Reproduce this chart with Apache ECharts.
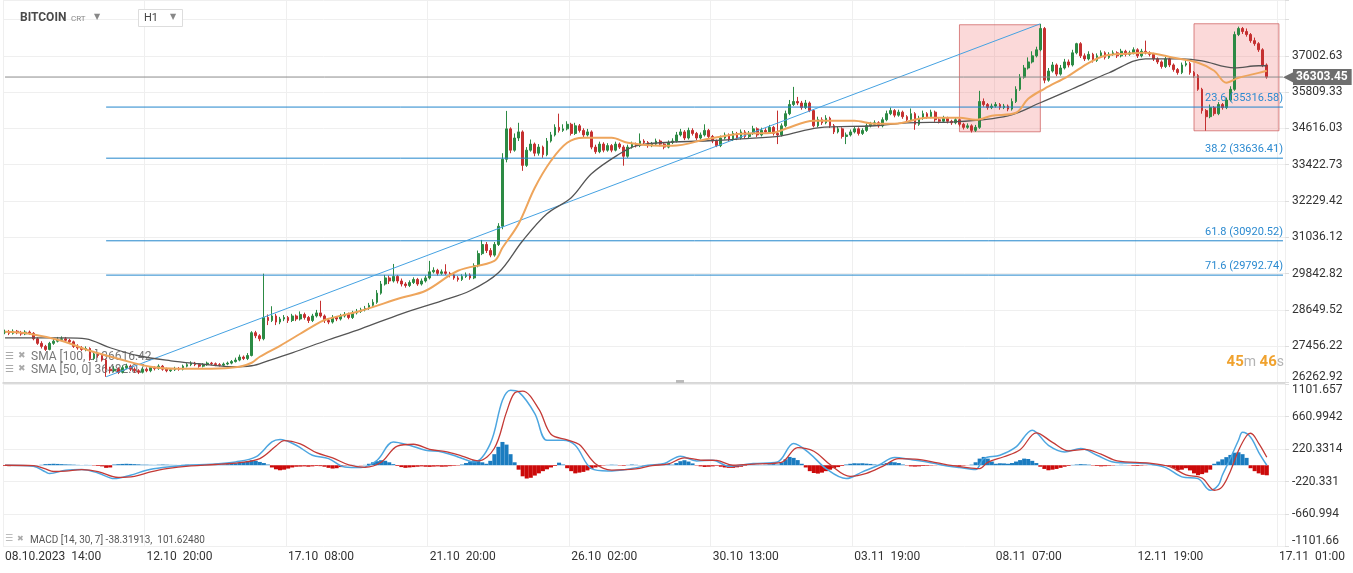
<!DOCTYPE html>
<html><head><meta charset="utf-8">
<script src="https://cdn.jsdelivr.net/npm/echarts@6/dist/echarts.min.js"></script>
<style>html,body{margin:0;padding:0;background:#fff}#c{width:1353px;height:573px}</style>
</head><body><div id="c"></div>
<script>
// ---------- data ----------
const timeLabels = ['08.10.2023  14:00','12.10  20:00','17.10  08:00','21.10  20:00','26.10  02:00','30.10  13:00','03.11  19:00','08.11  07:00','12.11  19:00','17.11  01:00'];
const barsPerLabel = 35;
const slotCount = 317;
const firstOpen = 27900;
const closes = [
27930,27880,27950,27900,27860,27920,27880,27700,27550,27450,
27350,27550,27620,27680,27700,27650,27600,27450,27400,27350,
27380,27050,27200,27150,27000,26700,26650,26700,26600,26750,
26800,26700,26650,26600,26700,26650,26750,26720,26800,26700,
26650,26680,26720,26700,26800,26850,26900,26850,26800,26850,
26900,26880,26850,26830,26870,26900,26950,27000,27100,27050,
27150,27900,27800,27700,28400,28300,28450,28250,28350,28400,
28300,28450,28350,28500,28400,28300,28450,28550,28450,28300,
28250,28400,28350,28450,28500,28400,28550,28600,28650,28700,
28800,28900,29200,29500,29700,29600,29750,29600,29500,29450,
29550,29650,29500,29600,29700,29900,29950,29850,29900,29850,
29800,29700,29650,29750,29800,29700,30100,30500,30800,30600,
30450,30800,31400,33600,34600,33900,34300,34500,33400,33900,
34100,33800,34000,33750,34200,34400,34650,34550,34600,34750,
34450,34700,34550,34400,34500,34000,33850,34100,33900,34050,
33900,34100,34000,33700,34000,34100,34050,34200,34150,34050,
34100,34200,34100,34000,34150,34200,34400,34500,34300,34550,
34450,34300,34400,34550,34350,34200,34050,34300,34400,34250,
34450,34300,34500,34350,34450,34600,34400,34550,34500,34650,
34450,34400,34700,35100,35400,35500,35450,35300,35450,35200,
34700,34900,34800,34950,34700,34500,34600,34350,34400,34500,
34600,34450,34550,34700,34750,34800,34700,34900,35100,35200,
35050,35150,35000,34900,35100,34750,34950,35100,35000,35150,
34900,34850,34950,34850,34800,34900,34750,34650,34700,34550,
34650,35500,35400,35300,35350,35400,35300,35350,35250,35500,
35900,36300,36600,36800,37000,37200,37900,36200,36500,36700,
36400,36600,36800,36700,37100,37400,37000,36900,37050,36850,
37000,37100,36950,37050,37100,37000,37150,37050,37100,37200,
37000,37150,37100,37050,36900,36800,36650,36900,36700,36550,
36450,36700,36750,36450,36350,35900,35200,35000,35300,35100,
35400,35300,35550,35900,37700,37900,37800,37700,37500,37400,
37200,36700,36303.45];
const highs = [
28000,27990,28010,27990,27960,27980,27970,27920,27750,27620,
27500,27600,27700,27760,27780,27760,27700,27640,27520,27460,
27450,27420,27260,27260,27200,27050,26780,26800,26760,26820,
26880,26850,26760,26700,26760,26760,26800,26800,26860,26840,
26750,26740,26780,26770,26850,26900,26960,26940,26890,26900,
26950,26940,26920,26900,26920,26950,27000,27080,27180,27150,
27230,27950,27960,27850,29840,28500,28770,28520,28420,28480,
28450,28520,28500,28600,28560,28450,28520,28650,28950,28500,
28350,28480,28450,28520,28580,28560,28620,28680,28720,28780,
28880,29000,29300,29600,29800,29780,30160,29800,29680,29560,
29620,29720,29700,29680,29780,30260,30050,30000,29980,30150,
29900,29850,29760,29820,29880,29850,30180,30600,30950,30880,
30680,30880,31500,33800,35190,34650,34450,34800,34550,34000,
34250,34150,34100,34050,34300,34500,34750,35100,34750,34850,
34800,34800,34760,34620,34600,34550,34080,34180,34160,34130,
34100,34180,34150,34060,34080,34180,34150,34450,34260,34200,
34170,34280,34250,34150,34220,34290,34500,34600,34560,34640,
34620,34500,34480,34750,34600,34400,34250,34380,34480,34450,
34530,34500,34580,34560,34530,34700,34650,34640,34620,34730,
34700,35200,34780,35200,35550,35980,35650,35520,35550,35500,
35250,35000,34980,35050,35000,34760,34680,34650,34480,34580,
34680,34650,34620,34780,34830,34880,34850,34980,35200,35300,
35250,35230,35200,35050,35270,35150,35030,35200,35150,35230,
35200,34950,35030,35000,34900,34970,34950,34800,34780,34750,
34730,35850,35600,35450,35430,35480,35450,35420,35400,35600,
36000,36400,36700,36950,37150,37300,38050,37950,36600,36800,
36750,36700,36900,36880,37200,37430,37450,37080,37150,37100,
37080,37180,37150,37120,37180,37150,37230,37200,37170,37280,
37250,37230,37500,37150,37100,36950,36850,36980,36950,36750,
36600,36780,36850,36800,36500,36400,35950,35250,35400,35350,
35480,35450,35630,36000,37800,37960,37950,37900,37750,37600,
37450,37250,36750];
const lows = [
27850,27820,27840,27850,27800,27820,27830,27650,27500,27380,
27300,27320,27500,27580,27620,27600,27540,27400,27340,27300,
27290,26980,27000,27080,26950,26450,26560,26600,26540,26560,
26700,26640,26580,26540,26560,26600,26600,26660,26680,26650,
26600,26610,26640,26650,26660,26760,26800,26800,26750,26760,
26810,26830,26800,26790,26790,26830,26860,26920,26960,27000,
27000,27120,27720,27620,27650,28150,28250,28150,28180,28280,
28220,28250,28280,28300,28330,28220,28250,28400,28400,28220,
28180,28200,28280,28300,28400,28340,28350,28500,28550,28600,
28650,28750,28850,29150,29450,29500,29550,29520,29420,29380,
29400,29500,29440,29450,29550,29650,29850,29780,29800,29800,
29720,29640,29580,29600,29700,29640,29660,30050,30450,30520,
30380,30400,30750,31300,33500,33800,33850,34200,33220,33350,
33850,33700,33720,33650,33700,34150,34350,34480,34500,34550,
34380,34400,34480,34330,34350,33930,33780,33800,33830,33850,
33830,33860,33940,33390,33650,33950,33990,34000,34080,33980,
34000,34050,34030,33930,33960,34100,34150,34350,34230,34250,
34380,34230,34250,34350,34280,34130,34000,34000,34250,34180,
34200,34230,34250,34280,34300,34400,34330,34350,34430,34450,
34380,34100,34350,34650,35050,35350,35380,35230,35250,35150,
34650,34650,34730,34750,34630,34430,34450,34280,34100,34350,
34450,34380,34400,34500,34650,34700,34640,34650,34850,35050,
34980,35000,34930,34830,34850,34570,34700,34900,34930,34950,
34830,34780,34800,34780,34730,34750,34680,34580,34600,34480,
34500,34600,35330,35230,35250,35300,35230,35250,35180,35200,
35450,35850,36250,36550,36750,36950,37150,36100,36150,36450,
36330,36350,36550,36620,36650,37050,36930,36830,36850,36780,
36800,36950,36880,36900,37000,36930,36950,36980,37000,37050,
36930,36950,37050,36980,36830,36730,36580,36600,36630,36480,
36380,36400,36650,36380,36280,35850,35100,34540,34950,35030,
35050,35230,35250,35500,35850,37650,37720,37630,37430,37330,
37130,36630,36250];
const sma50 = [[0,27930],[6,27869],[14,27635],[21,27306],[28,27043],[36,26780],[43,26714],[51,26714],[58,26780],[61,26912],[63,27109],[68,27470],[73,27865],[78,28259],[80,28358],[88,28621],[98,29048],[104,29278],[112,29936],[121,30264],[123,30692],[127,31481],[131,32664],[135,33551],[139,34143],[143,34307],[150,34307],[154,34143],[162,34044],[165,34044],[174,34274],[182,34439],[190,34472],[193,34603],[200,34866],[210,34866],[215,34767],[220,34767],[228,34965],[236,34965],[240,34899],[244,35030],[250,35129],[253,35590],[257,35918],[263,36345],[268,36773],[272,37003],[277,37068],[282,37101],[289,36937],[295,36773],[299,36510],[302,36115],[305,36280],[310,36440],[312,36510]];
const sma100 = [[0,27733],[15,27733],[20,27700],[26,27405],[33,27142],[41,26977],[48,26879],[56,26780],[61,26813],[65,26977],[71,27240],[80,27668],[88,28029],[98,28522],[108,28949],[115,29278],[122,29870],[128,30922],[134,31809],[140,32335],[145,33124],[152,33781],[156,34044],[162,34143],[174,34209],[182,34274],[192,34373],[201,34636],[215,34702],[223,34800],[235,34833],[248,35030],[256,35458],[264,35918],[273,36444],[282,36904],[291,36904],[296,36838],[304,36608],[310,36674],[312,36674]];
const macdLine = [[0,0],[7,-14],[10,-90],[11,-113],[15,-68],[19,-59],[23,-104],[27,-181],[31,-136],[35,-68],[39,-32],[45,0],[51,14],[57,45],[62,113],[66,316],[68,348],[72,271],[76,136],[80,90],[84,-23],[88,-32],[92,68],[96,316],[100,271],[104,203],[108,181],[112,113],[116,45],[120,294],[123,881],[125,1017],[127,994],[131,701],[134,339],[138,339],[141,271],[145,-45],[149,-77],[155,-45],[159,0],[163,23],[167,122],[171,59],[175,68],[179,-14],[185,23],[191,45],[195,294],[199,158],[203,-45],[208,-181],[212,-90],[216,0],[220,104],[224,77],[228,45],[232,0],[236,-32],[240,-59],[242,90],[246,136],[250,249],[254,475],[258,271],[262,181],[266,226],[270,136],[274,45],[282,23],[287,-32],[291,-158],[295,-181],[298,-339],[300,-271],[301,-136],[303,95],[305,339],[306,447],[308,380],[310,176],[312,0]];
const signalLine = [[0,0],[7,-5],[10,-50],[12,-85],[15,-80],[19,-60],[23,-85],[28,-165],[32,-150],[36,-90],[40,-45],[46,-8],[52,10],[58,35],[63,90],[67,260],[69,335],[73,290],[77,170],[81,100],[85,5],[89,-28],[93,40],[97,260],[101,285],[105,215],[109,185],[113,125],[117,60],[121,230],[124,720],[126,980],[128,1005],[132,760],[135,420],[139,345],[142,280],[146,20],[150,-65],[156,-50],[160,-5],[164,18],[168,100],[172,70],[176,65],[180,0],[186,18],[192,40],[196,240],[200,190],[204,10],[209,-150],[213,-110],[217,-15],[221,90],[225,82],[229,50],[233,5],[237,-25],[241,-45],[243,40],[247,115],[251,210],[255,440],[259,310],[263,195],[267,215],[271,150],[275,60],[283,28],[288,-20],[292,-130],[296,-175],[299,-339],[301,-290],[303,-80],[305,200],[307,400],[308,434],[310,298],[312,108]];
const macdHist = [
-10,-12,-10,-8,-10,-6,-8,
-4,2,6,
15,18,20,18,15,12,10,8,5,
3,5,4,-5,-10,-15,
-35,-30,
10,15,18,20,18,15,12,8,
8,6,5,8,10,8,6,5,4,6,8,6,5,4,3,5,6,8,10,12,15,18,
25,35,45,55,68,60,45,30,10,
-30,-55,-68,-60,-45,-30,
-20,-18,-15,-20,-15,-10,-12,-20,
-35,-45,-40,-25,
-5,3,5,2,-3,5,
20,40,55,68,60,40,15,
-10,-25,-35,-30,-25,-20,-15,
-20,-22,-18,-15,-20,-18,-12,-8,-5,
10,30,50,68,55,40,20,
60,150,250,316,280,150,40,
-60,-150,-180,-170,-140,-110,-80,-55,-30,-10,
35,10,
-40,-80,-110,-100,-90,-70,-50,-30,-15,
-5,5,8,6,-5,-8,5,10,6,3,-4,2,5,
10,18,23,15,8,30,
55,68,50,25,-5,-15,
-23,-20,-15,-8,-20,-30,
-35,-35,-28,-20,-8,5,8,5,
3,8,12,15,10,40,80,
113,100,70,20,
-30,-80,-105,-113,-100,-80,-60,-40,-25,-10,
10,20,27,25,27,22,18,10,
5,15,30,45,40,30,10,-5,
-15,-18,-15,-10,-8,-5,-3,2,
4,2,-4,-8,-10,-6,-2,8,
40,90,113,90,50,20,
27,25,20,30,50,
70,90,85,60,30,
-20,-50,-68,-60,-50,-35,-20,-10,
5,10,15,12,8,-5,-10,-15,-12,-8,-5,3,6,4,-3,-8,-10,-6,-3,2,5,3,-5,-10,-20,-40,
-68,-60,-40,-70,-110,-135,-120,-100,-60,
20,50,80,110,140,170,176,150,100,
-40,-80,-110,-130,-136];
const priceTickLabels = ['26262.92','27456.22','28649.52','29842.82','31036.12','32229.42','33422.73','34616.03','35809.33','37002.63'];
const macdTickLabels = ['-1101.66','-660.994','-220.331','220.3314','660.9942','1101.657'];
const fibLevels = [['23.6',35316.58],['38.2',33636.41],['61.8',30920.52],['71.6',29792.74]];
const fibStartIndex = 25, fibEndIndex = 316;
const lastPrice = 36303.45;
const trendLine = [[25,26451],[256,38054]];
const zones = [[[236,38022],[256,34504]],[[294,38055],[315,34537]]];
const smaLegend = ['SMA [100, 0] 36616.42','SMA [50, 0] 36482.07'];
const macdLegend = 'MACD [14, 30, 7] -38.31913,  101.62480';

// ---------- build ----------
const categories = Array.from({length: slotCount}, (_, i) => i % barsPerLabel === 0 ? (timeLabels[i / barsPerLabel] || '') : '');
const candles = closes.map((c, i) => [i === 0 ? firstOpen : closes[i - 1], c, lows[i], highs[i]]);
const showTick = (i) => i % barsPerLabel === 0;
const FONT = 'Roboto';
function pickLabel(list, v, tol) {
  for (const s of list) { if (Math.abs(parseFloat(s) - v) < tol) return s; }
  return '';
}

const fibSeries = fibLevels.map(f => ({
  type: 'line', xAxisIndex: 0, yAxisIndex: 0, z: 3, silent: true, symbol: 'none',
  data: [[fibStartIndex, f[1]], [fibEndIndex, f[1]]],
  lineStyle: {color: '#2286cc', width: 1},
  markPoint: {silent: true, symbol: 'circle', symbolSize: 0,
    data: [{coord: [fibEndIndex, f[1]]}],
    label: {show: true, position: 'left', distance: 0, offset: [0, -9], formatter: f[0] + ' (' + f[1].toFixed(2) + ')',
            color: '#2b8ad0', fontSize: 11, fontFamily: FONT}}
}));

const chart = echarts.init(document.getElementById('c'), null, {renderer: 'canvas'});
const gridLeft = 3, gridRight = 68;
const option = {
  animation: false,
  backgroundColor: '#fff',
  grid: [
    {left: gridLeft, right: gridRight, top: 0, height: 382.5},
    {left: gridLeft, right: gridRight, top: 384, bottom: 26.5}
  ],
  xAxis: [
    {type: 'category', gridIndex: 0, data: categories, boundaryGap: true,
     axisLabel: {show: false}, axisTick: {show: false},
     axisLine: {show: true, lineStyle: {color: '#cfcfcf', width: 1.5}},
     splitLine: {show: true, interval: (i) => showTick(i), lineStyle: {color: '#efefef'}}},
    {type: 'category', gridIndex: 1, data: categories, boundaryGap: true,
     axisTick: {show: false},
     axisLine: {show: false},
     axisLabel: {show: true, interval: (i) => showTick(i), align: 'left', color: '#333', fontSize: 12, fontFamily: FONT, margin: 4},
     splitLine: {show: true, interval: (i) => showTick(i), lineStyle: {color: '#efefef'}}}
  ],
  yAxis: [
    {type: 'value', gridIndex: 0, position: 'right', min: 26262.92, max: 38836, interval: 1193.3011, scale: true,
     axisLine: {show: false}, axisTick: {show: true, length: 4, lineStyle: {color: '#ddd'}},
     splitLine: {show: true, lineStyle: {color: '#efefef'}},
     axisLabel: {color: '#333', fontSize: 12, fontFamily: FONT, margin: 7, verticalAlignMinLabel: 'bottom',
       formatter: (v) => pickLabel(priceTickLabels, v, 1)}},
    {type: 'value', gridIndex: 1, position: 'right', min: -1101.657, max: 1101.657, interval: 440.6628,
     axisLine: {show: false}, axisTick: {show: true, length: 4, lineStyle: {color: '#ddd'}},
     splitLine: {show: true, lineStyle: {color: '#efefef'}},
     axisLabel: {color: '#333', fontSize: 12, fontFamily: FONT, margin: 7, verticalAlignMinLabel: 'bottom', verticalAlignMaxLabel: 'top',
       formatter: (v) => pickLabel(macdTickLabels, v, 0.05)}}
  ],
  series: [
    {type: 'candlestick', xAxisIndex: 0, yAxisIndex: 0, data: candles, barWidth: '55%',
     itemStyle: {color: '#2c8a44', color0: '#c53030', borderColor: '#2c8a44', borderColor0: '#c53030', borderWidth: 1},
     markArea: {silent: true,
       itemStyle: {color: 'rgba(240,120,120,0.28)', borderColor: 'rgba(205,95,95,0.75)', borderWidth: 1},
       data: zones.map(z => [{coord: z[0]}, {coord: z[1]}])}},
    ...fibSeries,
    {type: 'line', name: 'trend', xAxisIndex: 0, yAxisIndex: 0, z: 3, silent: true, symbol: 'none',
     data: trendLine, lineStyle: {color: '#45a2e2', width: 1}},
    {type: 'line', name: 'last', xAxisIndex: 0, yAxisIndex: 0, z: 3, silent: true, symbol: 'none',
     data: [[0, lastPrice], [fibEndIndex, lastPrice]], lineStyle: {color: '#8c8c8c', width: 1},
     markPoint: {silent: true, symbol: 'circle', symbolSize: 0,
       data: [{coord: [fibEndIndex, lastPrice]}],
       label: {show: true, position: 'right', distance: 0, formatter: '{a|◀}{b|' + lastPrice.toFixed(2) + '}',
         rich: {a: {color: '#6e6e6e', fontSize: 14, lineHeight: 17, padding: [0, -1, 0, 0]},
                b: {color: '#fff', backgroundColor: '#6e6e6e', fontSize: 12, fontWeight: 'bold', fontFamily: FONT, padding: [2, 4, 2, 3], lineHeight: 13}}}}},
    {type: 'line', name: 'SMA100', xAxisIndex: 0, yAxisIndex: 0, data: sma100, showSymbol: false, smooth: 0.35, z: 4,
     lineStyle: {color: '#555', width: 1.3}},
    {type: 'line', name: 'SMA50', xAxisIndex: 0, yAxisIndex: 0, data: sma50, showSymbol: false, smooth: 0.35, z: 4,
     lineStyle: {color: '#eea55c', width: 2}},
    {type: 'bar', name: 'hist', xAxisIndex: 1, yAxisIndex: 1, barWidth: '100%', barCategoryGap: 0,
     data: macdHist.map(v => ({value: v, itemStyle: {color: v >= 0 ? '#1b7cc0' : '#cc0a0a'}}))},
    {type: 'line', name: 'MACD', xAxisIndex: 1, yAxisIndex: 1, data: macdLine, showSymbol: false, smooth: 0.35, z: 4,
     lineStyle: {color: '#4da6e0', width: 1.5}},
    {type: 'line', name: 'Signal', xAxisIndex: 1, yAxisIndex: 1, data: signalLine, showSymbol: false, smooth: 0.35, z: 4,
     lineStyle: {color: '#c43a36', width: 1.3}}
  ],
  graphic: [
    {type: 'text', x: 20, y: 18, z: 10, style: {text: 'BITCOIN', fill: '#4a4a4a', fontSize: 12, fontWeight: 'bold', fontFamily: FONT, verticalAlign: 'middle'}},
    {type: 'text', x: 71, y: 19, z: 10, style: {text: 'CRT', fill: '#888', fontSize: 8, fontFamily: FONT, verticalAlign: 'middle'}},
    {type: 'text', x: 94, y: 17, z: 10, style: {text: '▼', fill: '#888', fontSize: 8, fontFamily: 'DejaVu Sans', verticalAlign: 'middle'}},
    {type: 'rect', z: 10, shape: {x: 138.5, y: 9.5, width: 44, height: 17}, style: {fill: '#fff', stroke: '#ddd', lineWidth: 1}},
    {type: 'text', x: 144, y: 18, z: 11, style: {text: 'H1', fill: '#444', fontSize: 11, fontFamily: FONT, verticalAlign: 'middle'}},
    {type: 'text', x: 170, y: 17, z: 11, style: {text: '▼', fill: '#888', fontSize: 8, fontFamily: 'DejaVu Sans', verticalAlign: 'middle'}},
    {type: 'text', x: 5, y: 356, z: 0, style: {text: '☰', fill: '#aaa', fontSize: 10, fontFamily: 'DejaVu Sans', verticalAlign: 'middle'}},
    {type: 'text', x: 18, y: 356, z: 0, style: {text: '✖', fill: '#aaa', fontSize: 9, fontFamily: 'DejaVu Sans', verticalAlign: 'middle'}},
    {type: 'text', x: 31, y: 357, z: 0, style: {text: smaLegend[0], fill: '#777', fontSize: 12, fontFamily: FONT, verticalAlign: 'middle'}},
    {type: 'text', x: 5, y: 369, z: 0, style: {text: '☰', fill: '#aaa', fontSize: 10, fontFamily: 'DejaVu Sans', verticalAlign: 'middle'}},
    {type: 'text', x: 18, y: 369, z: 0, style: {text: '✖', fill: '#aaa', fontSize: 9, fontFamily: 'DejaVu Sans', verticalAlign: 'middle'}},
    {type: 'text', x: 31, y: 370, z: 0, style: {text: smaLegend[1], fill: '#777', fontSize: 12, fontFamily: FONT, verticalAlign: 'middle'}},
    {type: 'text', x: 5, y: 539, z: 0, style: {text: '☰', fill: '#aaa', fontSize: 9, fontFamily: 'DejaVu Sans', verticalAlign: 'middle'}},
    {type: 'text', x: 17, y: 539, z: 0, style: {text: '✖', fill: '#aaa', fontSize: 8, fontFamily: 'DejaVu Sans', verticalAlign: 'middle'}},
    {type: 'text', x: 30, y: 540, z: 0, style: {text: macdLegend, fill: '#555', fontSize: 10, fontFamily: FONT, verticalAlign: 'middle'}},
    {type: 'rect', z: 10, shape: {x: 676, y: 380, width: 8, height: 3}, style: {fill: '#bbb'}},
    {type: 'text', x: 1284, y: 362, z: 10, style: {text: '{o|45}{g|m }{o|46}{g|s}', align: 'right', verticalAlign: 'middle',
      rich: {o: {fill: '#f0a22e', color: '#f0a22e', fontSize: 15, fontWeight: 'bold', fontFamily: FONT},
             g: {fill: '#b3b3b3', color: '#b3b3b3', fontSize: 14, fontFamily: FONT}}}}
  ]
};
chart.setOption(option);
</script>
</body></html>
